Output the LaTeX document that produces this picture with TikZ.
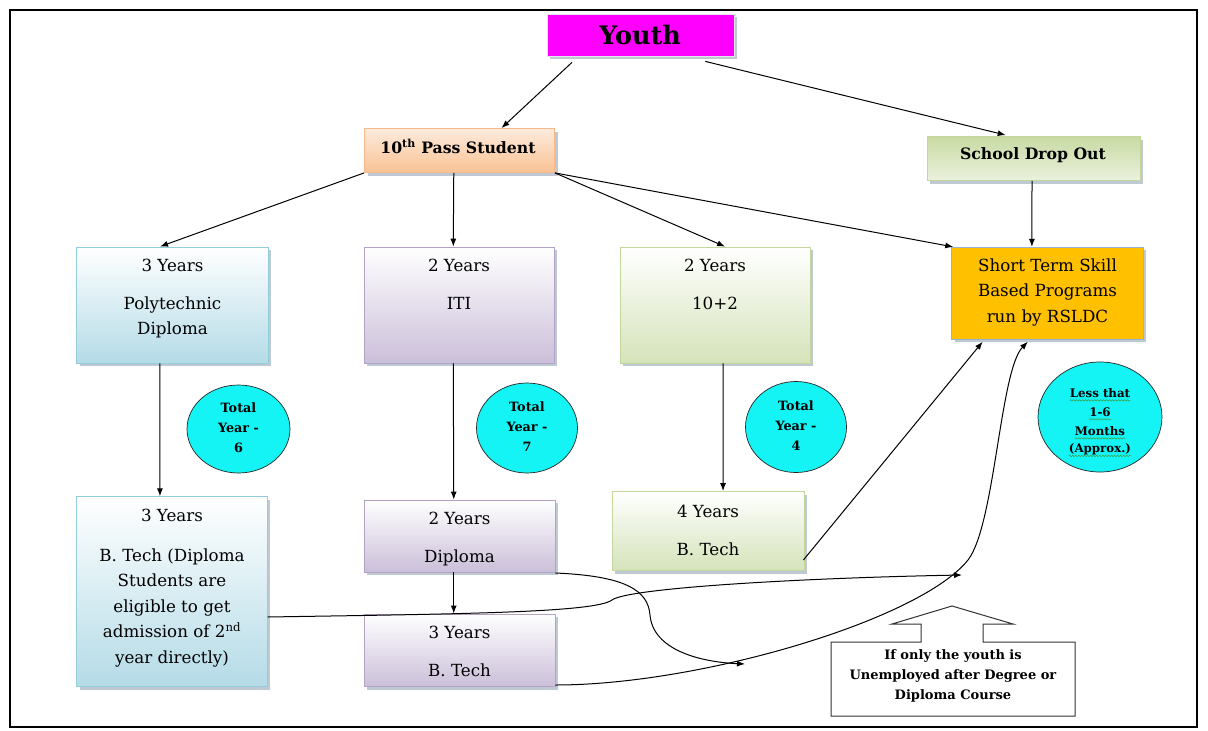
\documentclass[tikz,border=0pt]{standalone}
\usepackage{fontspec}
\setmainfont{DejaVu Serif}
\usetikzlibrary{arrows.meta,calc,shadows,shapes.geometric,decorations.pathmorphing}

\definecolor{mag}{HTML}{FF00FF}
\definecolor{youthline}{HTML}{E3E8EF}
\definecolor{peachtop}{HTML}{FDEBDD}
\definecolor{peachbot}{HTML}{FAC294}
\definecolor{peachline}{HTML}{F8B98A}
\definecolor{bluebot}{HTML}{B4DBE7}
\definecolor{blueline}{HTML}{93CDDD}
\definecolor{purpbot}{HTML}{CBBFD9}
\definecolor{purpline}{HTML}{B3A2C7}
\definecolor{greenbot}{HTML}{D5E3BA}
\definecolor{greenline}{HTML}{C3D69B}
\definecolor{greentop}{HTML}{C8DAA2}
\definecolor{greenlight}{HTML}{EBF1DE}
\definecolor{amber}{HTML}{FFC000}
\definecolor{skillline}{HTML}{95B3D7}
\definecolor{cyanfill}{HTML}{14F4F4}
\definecolor{shadowc}{HTML}{BFC9D3}
\definecolor{squiggle}{HTML}{3E9B3E}

\tikzset{
  box/.style={rectangle, line width=0.8pt, inner sep=0pt,
    drop shadow={shadow xshift=3pt, shadow yshift=-3pt, fill=shadowc, opacity=1}},
  bluebox/.style={box, draw=blueline, top color=white, bottom color=bluebot},
  purpbox/.style={box, draw=purpline, top color=white, bottom color=purpbot},
  greenbox/.style={box, draw=greenline, top color=white, bottom color=greenbot},
  bodytxt/.style={font=\fontsize{16.7}{25.6}\selectfont, align=center, inner sep=0pt},
  headtxt/.style={font=\fontsize{15.7}{18}\selectfont\bfseries, inner sep=0pt},
  bubble/.style={ellipse, draw=black!85, line width=0.7pt, fill=cyanfill, inner sep=0pt},
  bubtxt/.style={font=\fontsize{12.8}{20}\selectfont\bfseries, align=center, inner sep=0pt},
  lesstxt/.style={font=\fontsize{11.8}{18}\selectfont\bfseries, inner sep=0pt},
  conn/.style={draw=black, line width=1pt, -{Latex[length=8pt,width=6pt]}},
  squig/.style={draw=squiggle, line width=0.5pt,
    decorate, decoration={snake, amplitude=0.7pt, segment length=3pt}}
}

\begin{document}
\begin{tikzpicture}[x=1pt, y=-1pt]
\useasboundingbox (0,0) rectangle (1208,731);
\fill[white] (0,0) rectangle (1208,731);

% outer frame
\draw[line width=2pt] (10,10) rectangle (1197,727);

% top level
\node[box, fill=mag, draw=youthline, minimum width=187, minimum height=42] (youth) at (640.5,35) {};
\node[font=\fontsize{25.5}{26}\selectfont\bfseries, inner sep=0pt] (youtht) at (640,35) {Youth};

\node[box, draw=peachline, top color=peachtop, bottom color=peachbot,
      minimum width=190, minimum height=44] (tenth) at (459.5,150.5) {};
\node[headtxt] (tentht) at (458,146.5) {10\textsuperscript{th} Pass Student};

\node[box, draw=greenline, top color=greentop, bottom color=greenlight,
      minimum width=213, minimum height=44] (drop) at (1033.5,158.5) {};
\node[headtxt] (dropt) at (1033,155.5) {School Drop Out};

% second row
\node[bluebox, minimum width=191.6, minimum height=116] (poly) at (172.5,305) {};
\node[bodytxt, anchor=base] (polya) at (172.5,271) {3 Years};
\node[bodytxt, anchor=base] (polyb) at (172.5,334.6) {Polytechnic\\Diploma};

\node[purpbox, minimum width=190, minimum height=116] (iti) at (459,305) {};
\node[bodytxt, anchor=base] (itia) at (459,271) {2 Years};
\node[bodytxt, anchor=base] (itib) at (459,309) {ITI};

\node[greenbox, minimum width=190, minimum height=116] (plus) at (715,305) {};
\node[bodytxt, anchor=base] (plusa) at (715,271) {2 Years};
\node[bodytxt, anchor=base] (plusb) at (715,309) {10+2};

\node[box, fill=amber, draw=skillline, minimum width=191.6, minimum height=92] (skill) at (1047.5,293.3) {};
\node[bodytxt, anchor=base] (skillt) at (1047.5,322.2) {Short Term Skill\\Based Programs\\run by RSLDC};

% duration bubbles
\node[bubble, minimum width=103, minimum height=88] (tot6) at (238.5,429) {};
\node[bubtxt] (tot6t) at (238.5,428) {Total\\Year -\\6};
\node[bubble, minimum width=101, minimum height=90] (tot7) at (527,428) {};
\node[bubtxt] (tot7t) at (527,427) {Total\\Year -\\7};
\node[bubble, minimum width=101, minimum height=91] (tot4) at (796,427) {};
\node[bubtxt] (tot4t) at (796,426) {Total\\Year -\\4};

\node[bubble, minimum width=124, minimum height=110] (less) at (1100,417) {};
\node[lesstxt] (lessa) at (1100,393) {Less that};
\node[lesstxt] (lessb) at (1100,412) {1-6};
\node[lesstxt] (lessc) at (1100,431) {Months};
\node[lesstxt] (lessd) at (1100,449) {(Approx.)};
\draw[squig] ($(lessa.base west)+(0,3)$) -- ($(lessa.base east)+(0,3)$);
\draw[squig] ($(lessb.base west)+(0,3)$) -- ($(lessb.base east)+(0,3)$);
\draw[squig] ($(lessc.base west)+(0,3)$) -- ($(lessc.base east)+(0,3)$);
\draw[squig] ($(lessd.south west)+(0,1)$) -- ($(lessd.south east)+(0,1)$);

% third row
\node[bluebox, minimum width=190.6, minimum height=190] (btl) at (172,591.7) {};
\node[bodytxt, anchor=base] (btla) at (172,521) {3 Years};
\node[bodytxt, anchor=base] (btlb) at (172,663.4) {B. Tech (Diploma\\Students are\\eligible to get\\admission of 2\textsuperscript{nd}\\year directly)};

\node[purpbox, minimum width=191, minimum height=72] (dip) at (459.5,536) {};
\node[bodytxt, anchor=base] (dipa) at (459.5,524) {2 Years};
\node[bodytxt, anchor=base] (dipb) at (459.5,562) {Diploma};

\node[purpbox, minimum width=191, minimum height=72.7] (btm) at (459.5,650.3) {};
\node[bodytxt, anchor=base] (btma) at (459.5,638.5) {3 Years};
\node[bodytxt, anchor=base] (btmb) at (459.5,676) {B. Tech};

\node[greenbox, minimum width=192, minimum height=79] (bt4) at (708,531) {};
\node[bodytxt, anchor=base] (bt4a) at (708,517.5) {4 Years};
\node[bodytxt, anchor=base] (bt4b) at (708,555.5) {B. Tech};

% up-arrow callout
\draw[draw=black!80, line width=1pt, fill=white]
  (831,642) -- (921,642) -- (921,624) -- (892,624) -- (952,606) -- (1013,624)
  -- (983,624) -- (983,642) -- (1075,642) -- (1075,716) -- (831,716) -- cycle;
\node[font=\fontsize{13}{20}\selectfont\bfseries, align=center, inner sep=0pt] (callout) at (953,676)
  {If only the youth is\\Unemployed after Degree or\\Diploma Course};

% connectors
\draw[conn] ($(youth.south west)!0.135!(youth.south east)+(0,6)$) -- ($(tenth.north west)!0.72!(tenth.north east)$);
\draw[conn] ($(youth.south west)!0.845!(youth.south east)+(0,5)$) -- ($(drop.north west)!0.37!(drop.north east)+(0,-1)$);
\draw[conn] (tenth.south west) -- ($(poly.north west)!0.435!(poly.north east)$);
\draw[conn] ($(tenth.south west)!0.47!(tenth.south east)$) -- ($(iti.north west)!0.47!(iti.north east)$);
\draw[conn] (tenth.south east) -- ($(plus.north west)!0.553!(plus.north east)$);
\draw[conn] (tenth.south east) -- ($(skill.north west)+(2,0)$);
\draw[conn] ($(drop.south west)!0.493!(drop.south east)$) -- ($(skill.north west)!0.419!(skill.north east)$);
\draw[conn] ($(poly.south west)!0.435!(poly.south east)$) -- ($(btl.north west)!0.437!(btl.north east)$);
\draw[conn] ($(iti.south west)!0.47!(iti.south east)$) -- ($(dip.north west)!0.47!(dip.north east)$);
\draw[conn] ($(plus.south west)!0.542!(plus.south east)$) -- ($(bt4.north west)!0.578!(bt4.north east)$);
\draw[conn] ($(dip.south west)!0.47!(dip.south east)$) -- ($(btm.north west)!0.47!(btm.north east)$);
\draw[conn] ($(bt4.east)+(-1,29)$) -- ($(skill.south west)!0.163!(skill.south east)+(0,2)$);

% curved connectors toward the skill programmes
\coordinate (meet) at (962,575);
\coordinate (join) at (745,664);
\draw[conn] ($(btl.east)+(0,25.3)$) .. controls (450,614) and (595,613) .. (612,600)
  .. controls (628,588) and (800,578) .. (meet);
\draw[conn] ($(dip.east)+(0,37)$) .. controls (625,576) and (648,590) .. (650,615)
  .. controls (653,650) and (700,662) .. (join);
\draw[conn] ($(btm.east)+(0,34.7)$) .. controls (700,685) and (920,620) .. (968,560)
  .. controls (995,525) and (1000,370) .. ($(skill.south west)!0.398!(skill.south east)+(0,2)$);
\end{tikzpicture}
\end{document}
